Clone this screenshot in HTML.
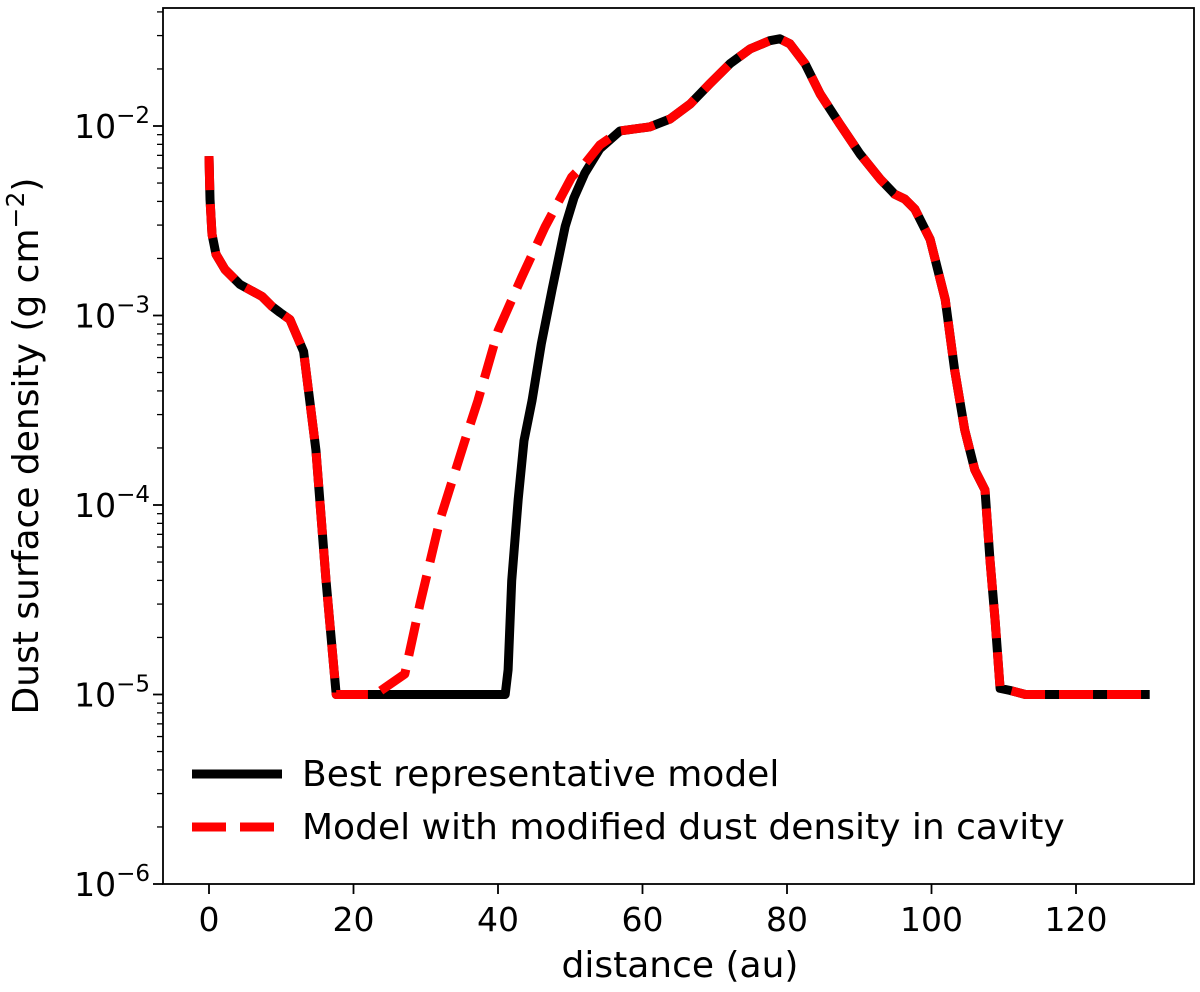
<!DOCTYPE html>
<html><head><meta charset="utf-8"><style>
body{margin:0;background:#fff}
svg text{font-family:"DejaVu Sans","Liberation Sans",sans-serif;fill:#000}
</style></head><body>
<svg id="chart" width="1200" height="987" viewBox="0 0 1200 987" xmlns="http://www.w3.org/2000/svg">
<g id="grid"></g>
<g id="series"></g>
<rect x="163" y="8" width="1031" height="876" fill="none" stroke="#000" stroke-width="1.8"/>
<g id="axes"></g>
<text x="680" y="977" font-size="36" text-anchor="middle">distance (au)</text>
<text transform="translate(38,446) rotate(-90)" font-size="36" text-anchor="middle">Dust surface density (g cm<tspan dy="-14" font-size="25">−2</tspan><tspan dy="14">)</tspan></text>
<g>
<line x1="192" y1="774" x2="282" y2="774" stroke="#000" stroke-width="9"/>
<text x="302" y="786" font-size="36">Best representative model</text>
<line x1="192" y1="827" x2="282" y2="827" stroke="#f00" stroke-width="9" stroke-dasharray="34,14"/>
<text x="302" y="839" font-size="36">Model with modified dust density in cavity</text>
</g>
</svg>
<script>
const bestX=[0,0.14,0.41,0.97,2.21,4.29,7.34,8.72,9.83,11.2,13.1,14.8,16.2,17.6,21.7,41.0,41.4,41.9,42.8,43.6,44.7,46.0,47.5,49.3,50.5,52.0,54.1,56.9,61.0,63.8,66.6,69.3,72.1,74.9,77.6,79.0,80.4,82.5,84.6,87.3,90.1,92.9,94.9,96.3,97.7,99.8,101.9,103.2,104.6,106.0,107.4,108.1,108.8,109.5,110.9,113.0,130.2];
const bestLog=[-2.159,-2.386,-2.571,-2.677,-2.757,-2.836,-2.899,-2.952,-2.984,-3.021,-3.19,-3.709,-4.397,-5,-5,-5,-4.87,-4.4,-3.97,-3.66,-3.45,-3.15,-2.86,-2.53,-2.38,-2.25,-2.12,-2.026,-2.005,-1.963,-1.884,-1.778,-1.672,-1.593,-1.55,-1.54,-1.566,-1.672,-1.831,-1.989,-2.148,-2.28,-2.36,-2.386,-2.439,-2.598,-2.915,-3.286,-3.603,-3.815,-3.921,-4.291,-4.608,-4.968,-4.979,-5,-5];
const modX=[0,0.14,0.41,0.97,2.21,4.29,7.34,8.72,9.83,11.2,13.1,14.8,16.2,17.6,23.0,27.1,29.2,32.0,35.4,37.2,40.0,43.3,46.5,50.2,52.0,54.1,56.9,61.0,63.8,66.6,69.3,72.1,74.9,77.6,79.0,80.4,82.5,84.6,87.3,90.1,92.9,94.9,96.3,97.7,99.8,101.9,103.2,104.6,106.0,107.4,108.1,108.8,109.5,110.9,113.0,130.2];
const modLog=[-2.159,-2.386,-2.571,-2.677,-2.757,-2.836,-2.899,-2.952,-2.984,-3.021,-3.19,-3.709,-4.397,-5,-5,-4.892,-4.522,-4.074,-3.662,-3.451,-3.082,-2.797,-2.533,-2.269,-2.2,-2.1,-2.026,-2.005,-1.963,-1.884,-1.778,-1.672,-1.593,-1.55,-1.54,-1.566,-1.672,-1.831,-1.989,-2.148,-2.28,-2.36,-2.386,-2.439,-2.598,-2.915,-3.286,-3.603,-3.815,-3.921,-4.291,-4.608,-4.968,-4.979,-5,-5];
const xTicks=[0,20,40,60,80,100,120];
const yTicks=[-6,-5,-4,-3,-2];
const yTickLabels=['−6','−5','−4','−3','−2'];

const NS='http://www.w3.org/2000/svg';
function xs(v){return 209+7.225*v;}
function ys(l){return 884-(l+6)*189.5;}
function mk(tag,attrs,parent){const e=document.createElementNS(NS,tag);for(const k in attrs)e.setAttribute(k,attrs[k]);parent.appendChild(e);return e;}
const axes=document.getElementById('axes');
const series=document.getElementById('series');
xTicks.forEach(v=>{
  const t=mk('line',{x1:xs(v),x2:xs(v),y1:884,y2:894,stroke:'#000','stroke-width':1.8},axes);
  
  
  const l=mk('text',{x:xs(v),y:931,'font-size':33,'text-anchor':'middle'},axes);
  l.textContent=v;
  
  
});
yTicks.forEach((v,i)=>{
  const t=mk('line',{x1:153,x2:163,y1:ys(v),y2:ys(v),stroke:'#000','stroke-width':1.8},axes);
  
  
  const l=mk('text',{x:150,y:ys(v)+12,'font-size':33,'text-anchor':'end'},axes);
  l.innerHTML='10<tspan dy="-15" font-size="23">'+yTickLabels[i]+'</tspan>';
  
  
});
for(let d=-6;d<-1;d++){for(let m=2;m<=9;m++){const l=d+Math.log10(m);const y=ys(l);if(y<8)continue;
  const t=mk('line',{x1:157,x2:163,y1:y,y2:y,stroke:'#000','stroke-width':1.3},axes);
  
  
}}
function pts(X,L){return X.map((x,i)=>xs(x).toFixed(1)+','+ys(L[i]).toFixed(1)).join(' ');}
const b=mk('polyline',{points:pts(bestX,bestLog),fill:'none',stroke:'#000','stroke-width':9,'stroke-linejoin':'round'},series);


const r=mk('polyline',{points:pts(modX,modLog),fill:'none',stroke:'#f00','stroke-width':9,'stroke-dasharray':'34,14','stroke-linejoin':'round'},series);


</script>
</body></html>
